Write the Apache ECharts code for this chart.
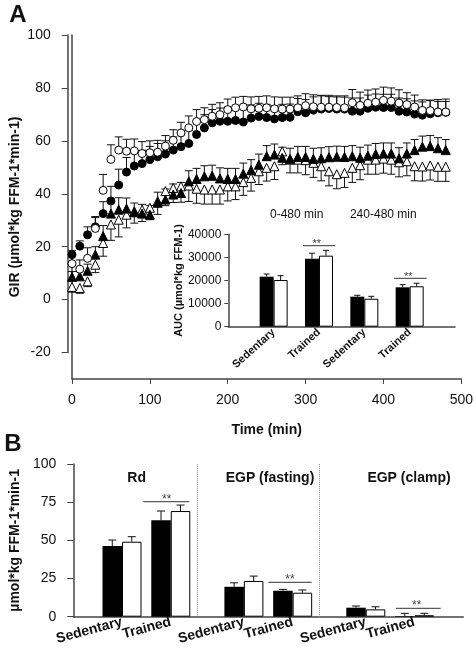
<!DOCTYPE html>
<html><head><meta charset="utf-8">
<script src="https://cdn.jsdelivr.net/npm/echarts@6/dist/echarts.min.js"></script>
<style>html,body{margin:0;padding:0;background:#fff}#c{width:476px;height:660px}</style>
</head><body><div id="c"></div>
<script>
// ---------- Panel A: GIR time course ----------
const times = [0,10,20,30,40,50,60,70,80,90,100,110,120,130,140,150,160,170,180,190,200,210,220,230,240,250,260,270,280,290,300,310,320,330,340,350,360,370,380,390,400,410,420,430,440,450,460,470,480];
const circFilled = [17,20.2,24.5,27.5,32.5,37.3,43.3,48.2,50.5,51.4, 52.9,54,55,56.5,57.8,59,62.4,64.9,66.8,67.4, 67.4,67.7,67.1,68.6,69.2,68.8,68.3,68.8,68.9,71, 70.6,71.6,72,72.2,72,72,71.2,71.2,72.3,72.7, 72.6,72.6,71.2,70.9,70.1,69.7,70.2,70.6,70.8];
const circFilledErr = [1.5,2,3,3.5,4.5,5.5,6,5.5,5,5, 5,5,5,5,5,5,5,5,5,5, 5,5,5,5,5,5,5,5,5,5, 5,5,5,5,5,5,5,5,5,5, 5,5,5,5,5,5,5,5,5];
const circOpen = [13.6,11.5,15.6,26.9,41.3,53,56.5,56.1,56.2,55.2, 55.5,55.7,58,60.2,63,64.9,67.3,68,69.3,69.9, 71.8,72.5,72.8,72.1,72.3,72.5,72.1,72,72,72.5, 73.3,72.9,72.7,72.7,72.6,72.5,74.4,73.4,74.2,74.6, 75.3,75,74.3,73.7,72.8,71.5,71.4,70.9,70.9];
const circOpenErr = [3.5,3.5,4,4.5,6,5.5,5,4.5,4.5,4.5, 4.5,4.5,4,4,4,4.5,4.5,4.5,4.5,4.5, 4,4,4,4.5,4.5,4.5,4.5,4.5,4.5,4.5, 4.5,4.5,4.5,4,4,4,5,5,5,5, 5,5,5,4.5,4.5,4,4,4,4];
const triFilled = [8.6,8.8,10.9,17,24,32.5,34,34.4,33,32.5, 32.1,36.6,37.8,39.7,40.3,44.7,45.6,46.6,46.8,45.8, 45.6,45.6,47.6,48.9,51,54.2,54.8,53.6,53.2,53.9, 53.9,53.2,53.4,53.8,54,53.9,54.2,53.6,54.4,55, 55.2,55.2,53.4,55.2,56.5,57.8,58,57.2,56.5];
const triFilledErr = [2,2,2.5,3,4,5,4.5,4,3.5,3.5, 3.5,4,4,4,4,4,4,4,4,4, 4,4,4,4,4,4,4,4,4,4, 4,4,4,4,4,4,4,4,4,4, 4,4,4,4,4,4,4,4,4];
const triOpen = [4.8,4.4,6.9,13.2,21.4,28.4,30.2,32.1,33.4,34, 34.7,37.2,41,42.2,42.8,43.1,41.9,41.6,41.6,41.6, 42.8,42.8,44.4,46,48.5,49.8,50.4,56,52.9,52.9, 52.7,51.7,50.4,48.5,47.4,47.9,49.8,50.8,52.9,52.9, 53.3,52.9,51.9,52.3,50.4,50.3,50.7,50.2,50.2];
const triOpenErr = [2,2,2,3,5,6,6.5,5,4.5,4.5, 4.5,5,5.5,5.5,6,6,5.5,5.5,5.5,5.5, 5.5,5,5,5,5,5,5,5,5,5, 5.5,5.5,5.5,5.5,5.5,5.5,5.5,5.5,5.5,5.5, 5.5,5.5,5.5,5.5,5.5,5.5,5.5,5.5,5.5];
const xTicksA = [0,100,200,300,400,500];
const yTicksA = [-20,0,20,40,60,80,100];

// ---------- Panel A inset: AUC ----------
const aucCats = ['Sedentary','Trained','Sedentary','Trained'];
const aucBlack = [21650,29450,13000,17050];
const aucBlackErr = [1150,2350,600,1150];
const aucWhite = [20200,30750,12100,17500];
const aucWhiteErr = [1900,2300,1050,1300];
const aucPeriods = ['0-480 min','240-480 min'];

// ---------- Panel B ----------
const bCats = ['Sedentary','Trained','Sedentary','Trained','Sedentary','Trained'];
const bBlack = [46.3,63.1,19.6,17,5.9,0.4];
const bBlackErr = [3.9,6.1,2.6,0.9,1.1,1.8];
const bWhite = [49.1,69.2,23.4,15.7,4.8,0.9];
const bWhiteErr = [3.3,3.9,3.2,1.8,1.7,1.3];
const bGroups = ['Rd','EGP (fasting)','EGP (clamp)'];

// ---------- layout helpers (not data) ----------
const FONT = 'Liberation Sans, Arial, Helvetica, sans-serif';
const AX = '#444';
const bSlots = 33;
const bPos = [4,8,14,18,24,28];
const bDividers = [11,21];
const bCatFull = Array.from({length:bSlots},()=>'');
bPos.forEach((p,i)=>{bCatFull[p]=bCats[i];});
function spread(vals){const a=Array.from({length:bSlots},()=>null);bPos.forEach((p,i)=>{a[p]=vals[i];});return a;}
const aucCatFull = [''].concat(aucCats).concat(['']);

function errRender(capHalf, offPx){
  return function(params, api){
    const x=api.value(0), y=api.value(1), e=api.value(2), d=api.value(3);
    if (y==null || isNaN(y)) return;
    const p0=api.coord([x,y]), p1=api.coord([x,y+d*e]);
    const ox=p0[0]+offPx;
    return {type:'group', children:[
      {type:'line', shape:{x1:ox,y1:p0[1],x2:ox,y2:p1[1]}, style:{stroke:'#111',lineWidth:1}},
      {type:'line', shape:{x1:ox-capHalf,y1:p1[1],x2:ox+capHalf,y2:p1[1]}, style:{stroke:'#111',lineWidth:1}}
    ]};
  };
}
function errData(xs, vals, errs, dir){return vals.map((v,i)=>[xs[i],v,errs[i],dir]);}
function pts(vals){return vals.map((v,i)=>[times[i],v]);}

const series = [];
function addErrA(vals, errs, dir){
  series.push({type:'custom', xAxisIndex:0, yAxisIndex:0, renderItem:errRender(4,0), data:errData(times,vals,errs,dir), encode:{x:0,y:1}, silent:true, z:2});
}
function addPtsA(vals, sym, filled){
  series.push({type:'scatter', xAxisIndex:0, yAxisIndex:0, data:pts(vals), symbol:sym, symbolSize: sym==='triangle'?9:8,
    itemStyle:{color: filled?'#000':'#fff', borderColor:'#000', borderWidth:1, opacity:1}, silent:true, z:3});
}
addErrA(triOpen, triOpenErr, -1);
addPtsA(triOpen,'triangle',false);
addErrA(triFilled, triFilledErr, 1);
addPtsA(triFilled,'triangle',true);
addErrA(circFilled, circFilledErr, 1);
addPtsA(circFilled,'circle',true);
addErrA(circOpen, circOpenErr, 1);
addPtsA(circOpen,'circle',false);

// inset bars
const aBW = 14;
series.push({type:'bar', xAxisIndex:2, yAxisIndex:2, data:[null].concat(aucBlack).concat([null]), barWidth:aBW, barGap:'0%', itemStyle:{color:'#000'}, silent:true, z:3});
series.push({type:'bar', xAxisIndex:2, yAxisIndex:2, data:[null].concat(aucWhite).concat([null]), barWidth:aBW, barGap:'0%', itemStyle:{color:'#fff', borderColor:'#000', borderWidth:1}, silent:true, z:3});
series.push({type:'custom', xAxisIndex:2, yAxisIndex:2, renderItem:errRender(3,-aBW/2), data:errData([1,2,3,4],aucBlack,aucBlackErr,1), encode:{x:0,y:1}, silent:true, z:4});
series.push({type:'custom', xAxisIndex:2, yAxisIndex:2, renderItem:errRender(3,aBW/2), data:errData([1,2,3,4],aucWhite,aucWhiteErr,1), encode:{x:0,y:1}, silent:true, z:4});

// panel B bars
const bBW = 19.5;
series.push({type:'bar', xAxisIndex:3, yAxisIndex:3, data:spread(bBlack), barWidth:bBW, barGap:'0%', itemStyle:{color:'#000'}, silent:true, z:3,
  markLine:{silent:true, symbol:'none', label:{show:false}, lineStyle:{color:'#888', type:'dotted', width:1}, data:bDividers.map(d=>({xAxis:d}))}});
series.push({type:'bar', xAxisIndex:3, yAxisIndex:3, data:spread(bWhite), barWidth:bBW, barGap:'0%', itemStyle:{color:'#fff', borderColor:'#000', borderWidth:1}, silent:true, z:3});
series.push({type:'custom', xAxisIndex:3, yAxisIndex:3, renderItem:errRender(4,-bBW/2), data:errData(bPos,bBlack,bBlackErr,1), encode:{x:0,y:1}, silent:true, z:4});
series.push({type:'custom', xAxisIndex:3, yAxisIndex:3, renderItem:errRender(4,bBW/2), data:errData(bPos,bWhite,bWhiteErr,1), encode:{x:0,y:1}, silent:true, z:4});

const axLine = {show:true, onZero:false, lineStyle:{color:AX, width:1.5}};
const plain = v => String(v);
const txt = (t,x,y,size,bold,fill)=>({type:'text', x:x, y:y, silent:true, style:{text:t, fontSize:size, fontWeight:bold?'bold':'normal', fontFamily:FONT, fill:fill||'#111', align:'center', verticalAlign:'middle'}});
const ln = (x1,y1,x2,y2)=>({type:'line', silent:true, shape:{x1,y1,x2,y2}, style:{stroke:'#333', lineWidth:1}});

const option = {
  animation:false,
  textStyle:{fontFamily:FONT},
  grid:[
    {left:67.7, top:35, width:395.6, height:344},
    {left:67.7, top:35, width:395.6, height:317.5},
    {left:228.3, top:234.3, width:226.7, height:92.4},
    {left:67, top:464, width:396.3, height:152.7}
  ],
  xAxis:[
    {gridIndex:0, type:'value', min:xTicksA[0], max:xTicksA[xTicksA.length-1], interval:100, axisLine:axLine,
     axisTick:{show:true, length:5, lineStyle:{color:AX}}, axisLabel:{fontSize:14, margin:14, color:'#111', formatter:plain}, splitLine:{show:false},
     name:'Time (min)', nameLocation:'middle', nameGap:44, nameTextStyle:{fontSize:14, fontWeight:'bold', color:'#111'}},
    {gridIndex:1, type:'value', min:0, max:500, show:false},
    {gridIndex:2, type:'category', data:aucCatFull, boundaryGap:false, axisLine:axLine, axisTick:{show:false},
     axisLabel:{interval:0, rotate:42, fontSize:11, fontWeight:'bold', margin:4, color:'#111'}},
    {gridIndex:3, type:'category', data:bCatFull, boundaryGap:false, axisLine:axLine, axisTick:{show:false},
     axisLabel:{interval:0, rotate:15, fontSize:14, fontWeight:'bold', margin:5, color:'#111'}}
  ],
  yAxis:[
    {gridIndex:0, type:'value', min:-30, max:100, axisLine:axLine, axisTick:{show:false}, axisLabel:{show:false}, splitLine:{show:false},
     name:'GIR (µmol*kg FFM-1*min-1)', nameLocation:'middle', nameGap:50, nameRotate:90, nameTextStyle:{fontSize:14, fontWeight:'bold', color:'#111'}},
    {gridIndex:1, type:'value', min:yTicksA[0], max:yTicksA[yTicksA.length-1], interval:20, axisLine:axLine,
     axisTick:{show:true, length:6, lineStyle:{color:AX}}, axisLabel:{fontSize:14, margin:17, color:'#111', formatter:plain}, splitLine:{show:false}},
    {gridIndex:2, type:'value', min:0, max:40000, interval:10000, axisLine:axLine,
     axisTick:{show:true, length:4, lineStyle:{color:AX}}, axisLabel:{fontSize:12, margin:7, color:'#111', formatter:plain}, splitLine:{show:false},
     name:'AUC (µmol*kg FFM-1)', nameLocation:'middle', nameGap:37, nameRotate:90, nameTextStyle:{fontSize:11, fontWeight:'bold', color:'#111'}},
    {gridIndex:3, type:'value', min:0, max:100, interval:25, axisLine:axLine,
     axisTick:{show:true, length:6, lineStyle:{color:AX}}, axisLabel:{fontSize:14, margin:17, color:'#111', formatter:plain}, splitLine:{show:false},
     name:'µmol*kg FFM-1*min-1', nameLocation:'middle', nameGap:50, nameRotate:90, nameTextStyle:{fontSize:14, fontWeight:'bold', color:'#111'}}
  ],
  series:series,
  graphic:[
    txt('A',18,15,24,true),
    txt('B',13,444,24,true),
    txt(aucPeriods[0],296.7,215,12,false),
    txt(aucPeriods[1],383.3,215,12,false),
    ln(303,245.7,335,245.7), txt('**',316.7,244,11,false,'#444'),
    ln(394,278.3,426.7,278.3), txt('**',408.3,276.6,11,false,'#444'),
    txt(bGroups[0],136.7,478,14,true),
    txt(bGroups[1],270,478,14,true),
    txt(bGroups[2],409,478,14,true),
    ln(143.3,501.7,189.3,501.7), txt('**',166.7,499.5,12,false,'#444'),
    ln(268.3,582.3,311.7,582.3), txt('**',290,580,12,false,'#444'),
    ln(396,608.3,440.7,608.3), txt('**',416.7,606,12,false,'#444')
  ]
};
const chart = echarts.init(document.getElementById('c'), null, {renderer:'canvas', width:476, height:660});
chart.setOption(option);
</script></body></html>
